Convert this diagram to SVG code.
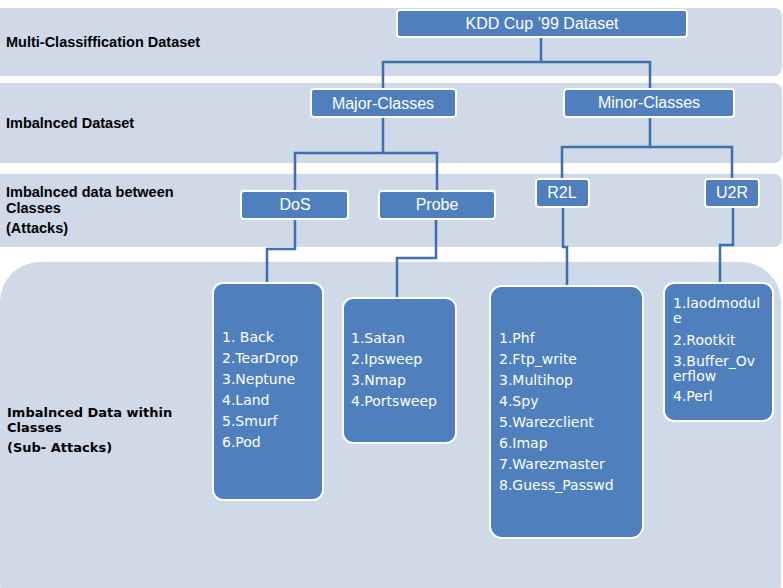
<svg xmlns="http://www.w3.org/2000/svg" width="783" height="588" viewBox="0 0 783 588">
<style>
.band{fill:#d0d9e7}
.box{fill:#4f80bd;stroke:#ffffff;stroke-width:2}
.hd{font-family:"Liberation Sans",Arial,sans-serif;font-size:16px;fill:#ffffff;text-anchor:middle}
.lst{font-family:"DejaVu Sans",Verdana,sans-serif;font-size:14px;fill:#ffffff}
.lbl{font-family:"Liberation Sans",Arial,sans-serif;font-size:14.5px;font-weight:bold;fill:#000000}
.lbl2{font-family:"DejaVu Sans",Verdana,sans-serif;font-size:13px;font-weight:bold;fill:#000000}
.con{fill:none;stroke:#3f6faf;stroke-width:2.5}
</style>
<rect width="783" height="588" fill="#ffffff"/>
<g id="bands">
<rect class="band" x="-10" y="8" width="792" height="68" rx="8"/>
<rect class="band" x="-10" y="83" width="792" height="80" rx="8"/>
<rect class="band" x="-10" y="174" width="792" height="73" rx="8"/>
<rect class="band" x="0" y="262" width="781" height="360" rx="40"/>
</g>
<g id="labels">
<text class="lbl" x="6" y="47">Multi-Classiffication Dataset</text>
<text class="lbl" x="6" y="128">Imbalnced Dataset</text>
<text class="lbl" x="6" y="197">Imbalnced data between</text>
<text class="lbl" x="6" y="213">Classes</text>
<text class="lbl" x="6" y="233">(Attacks)</text>
<text class="lbl2" x="7" y="417">Imbalnced Data within</text>
<text class="lbl2" x="7" y="432">Classes</text>
<text class="lbl2" x="7" y="452">(Sub- Attacks)</text>
</g>
<g id="connectors">
<polyline class="con" points="541,37 541,62 383,62 383,89"/>
<polyline class="con" points="541,62 650,62 650,89"/>
<polyline class="con" points="383,117 383,153 295,153 295,191"/>
<polyline class="con" points="383,153 437,153 437,191"/>
<polyline class="con" points="650,117 650,147 562,147 562,179"/>
<polyline class="con" points="650,147 732,147 732,179"/>
<polyline class="con" points="295,219 295,249 267,249 267,283"/>
<polyline class="con" points="436,219 436,258 397,258 397,298"/>
<polyline class="con" points="563,207 563,247 567,247 567,286"/>
<polyline class="con" points="733,207 733,245 720,245 720,283"/>
</g>
<g id="kdd">
<rect class="box" x="397" y="10" width="290" height="27" rx="3"/>
<text class="hd" x="542" y="29">KDD Cup ’99 Dataset</text>
</g>
<g id="major">
<rect class="box" x="311" y="89" width="145" height="28" rx="3"/>
<text class="hd" x="383" y="109">Major-Classes</text>
</g>
<g id="minor">
<rect class="box" x="564" y="89" width="170" height="28" rx="3"/>
<text class="hd" x="649" y="108">Minor-Classes</text>
</g>
<g id="dos">
<rect class="box" x="241" y="191" width="107" height="28" rx="3"/>
<text class="hd" x="295" y="210">DoS</text>
</g>
<g id="probe">
<rect class="box" x="379" y="191" width="116" height="28" rx="3"/>
<text class="hd" x="437" y="210">Probe</text>
</g>
<g id="r2l">
<rect class="box" x="536" y="179" width="53" height="28" rx="3"/>
<text class="hd" x="562" y="198">R2L</text>
</g>
<g id="u2r">
<rect class="box" x="705" y="179" width="54" height="28" rx="3"/>
<text class="hd" x="732" y="198">U2R</text>
</g>
<g id="dos-list">
<rect class="box" x="213" y="283" width="110" height="217" rx="10"/>
<text class="lst" x="222" y="342">1. Back</text>
<text class="lst" x="222" y="363">2.TearDrop</text>
<text class="lst" x="222" y="384">3.Neptune</text>
<text class="lst" x="222" y="405">4.Land</text>
<text class="lst" x="222" y="426">5.Smurf</text>
<text class="lst" x="222" y="447">6.Pod</text>
</g>
<g id="probe-list">
<rect class="box" x="343" y="298" width="113" height="145" rx="10"/>
<text class="lst" x="351" y="343">1.Satan</text>
<text class="lst" x="351" y="364">2.Ipsweep</text>
<text class="lst" x="351" y="385">3.Nmap</text>
<text class="lst" x="351" y="406">4.Portsweep</text>
</g>
<g id="r2l-list">
<rect class="box" x="490" y="286" width="153" height="252" rx="12"/>
<text class="lst" x="499" y="343">1.Phf</text>
<text class="lst" x="499" y="364">2.Ftp_write</text>
<text class="lst" x="499" y="385">3.Multihop</text>
<text class="lst" x="499" y="406">4.Spy</text>
<text class="lst" x="499" y="427">5.Warezclient</text>
<text class="lst" x="499" y="448">6.Imap</text>
<text class="lst" x="499" y="469">7.Warezmaster</text>
<text class="lst" x="499" y="490">8.Guess_Passwd</text>
</g>
<g id="u2r-list">
<rect class="box" x="664" y="283" width="109" height="138" rx="10"/>
<text class="lst" x="673" y="308">1.laodmodul</text>
<text class="lst" x="673" y="323">e</text>
<text class="lst" x="673" y="345">2.Rootkit</text>
<text class="lst" x="673" y="366">3.Buffer_Ov</text>
<text class="lst" x="673" y="381">erflow</text>
<text class="lst" x="673" y="401">4.Perl</text>
</g>
</svg>
